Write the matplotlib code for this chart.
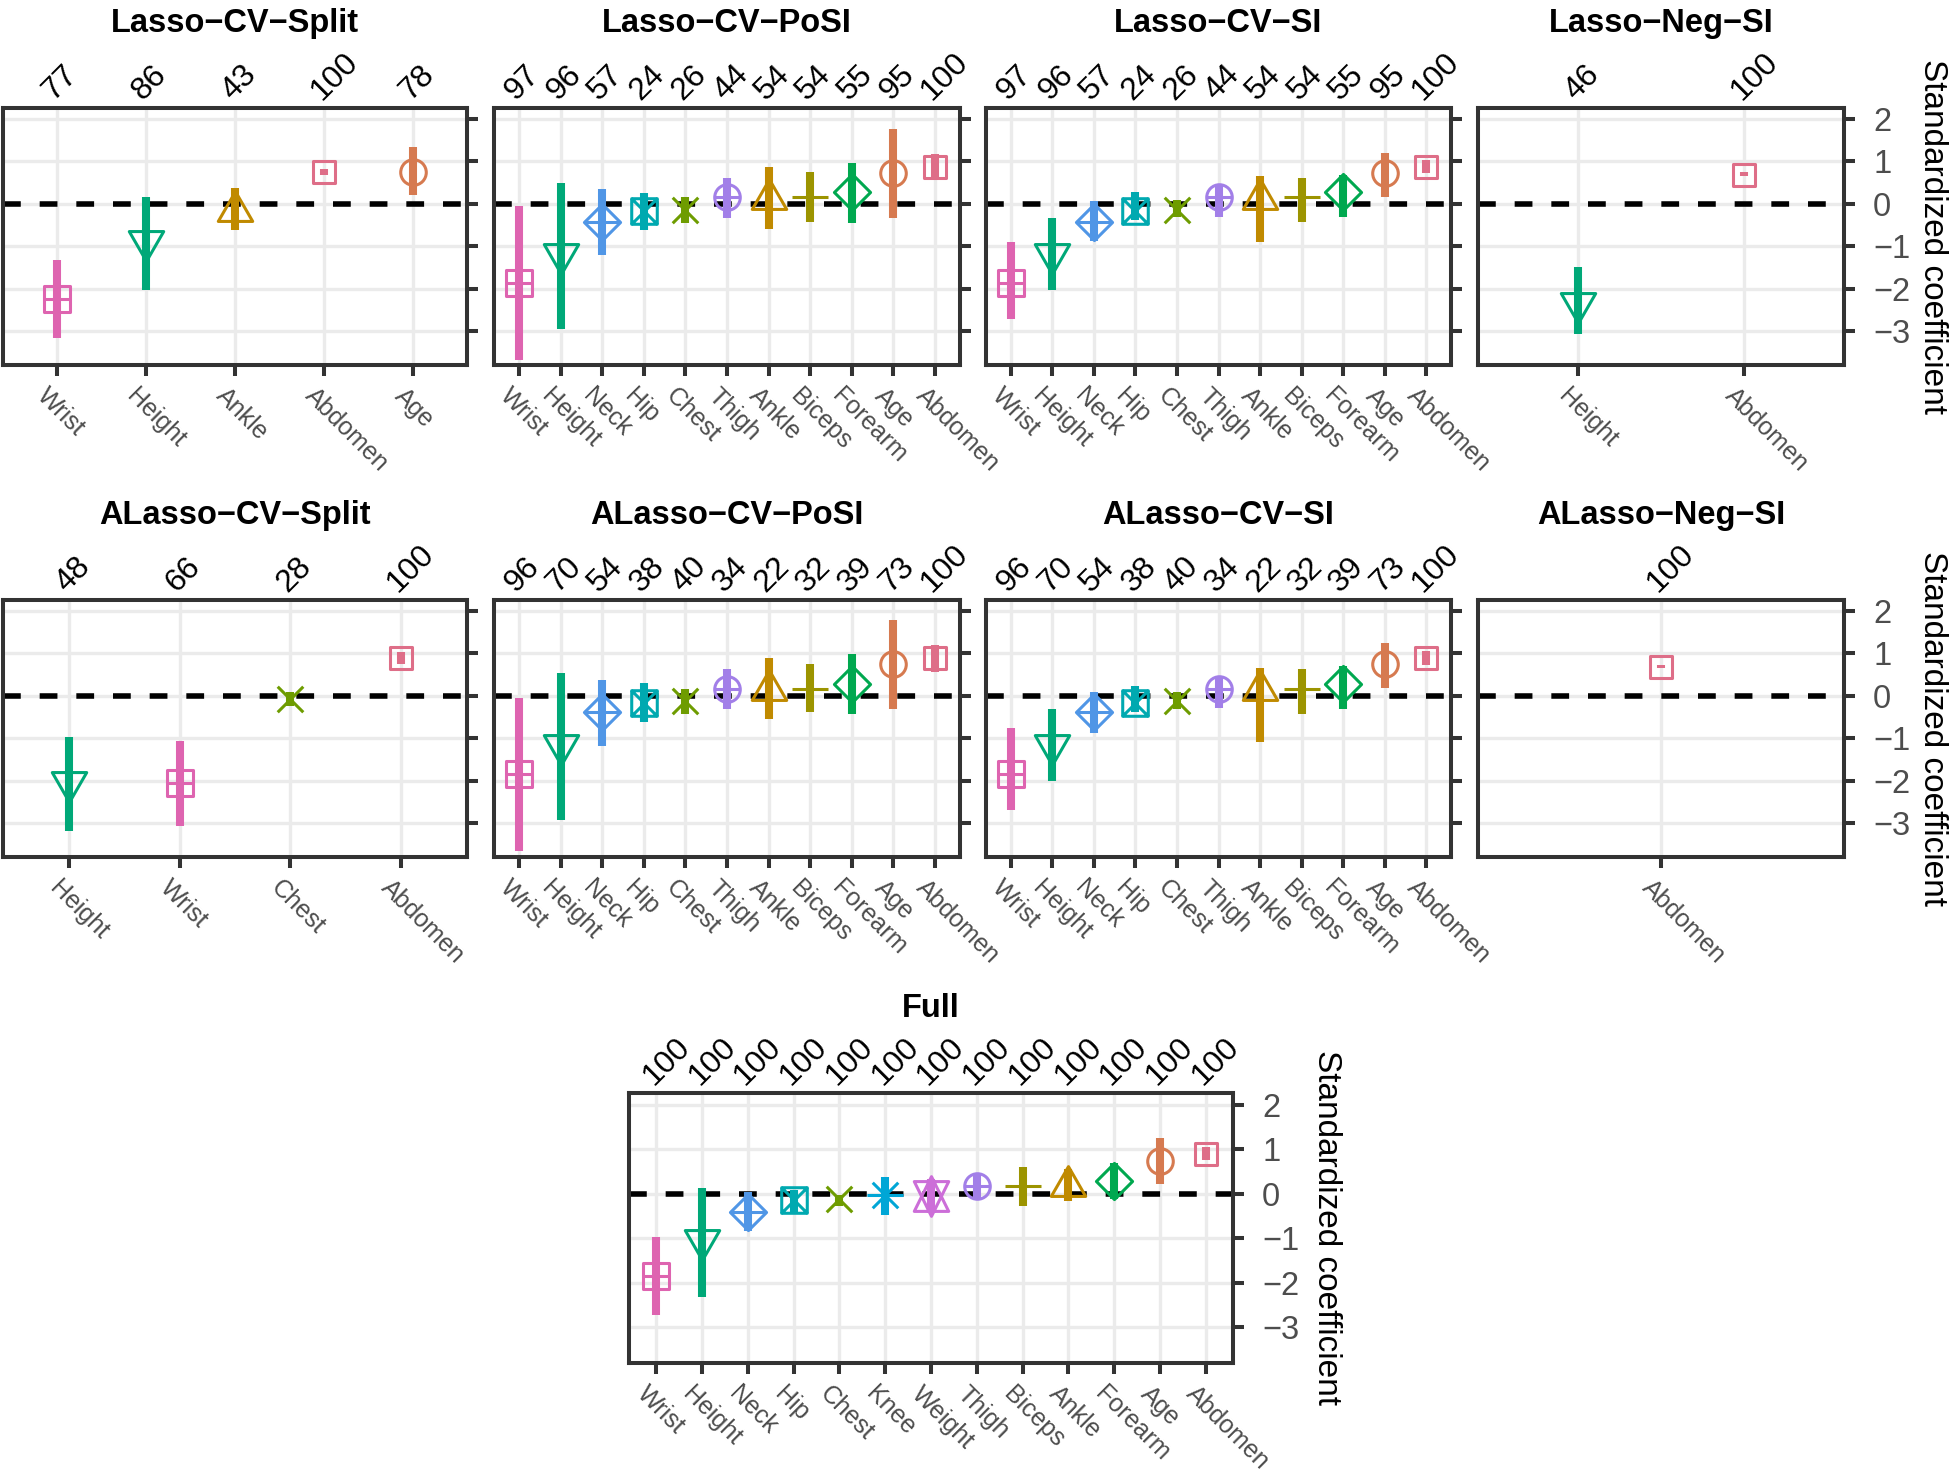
import numpy as np
import matplotlib.pyplot as plt
from matplotlib.path import Path
from matplotlib.transforms import blended_transform_factory, offset_copy

plt.rcParams['font.family'] = ['Liberation Sans', 'DejaVu Sans']

# ---------------- data ----------------
all_vars = ["Abdomen", "Age", "Ankle", "Biceps", "Chest", "Forearm", "Height",
            "Hip", "Knee", "Neck", "Thigh", "Weight", "Wrist"]
var_colors = ["#DE6E88", "#D67A50", "#C08A00", "#9C9400", "#6E9C00", "#00A84F",
              "#00A878", "#00A9B0", "#00A6D6", "#5096E6", "#A27FE8", "#CC6ED8", "#DE64B0"]

vars_split = ["Wrist", "Height", "Ankle", "Abdomen", "Age"]
vars_posi = ["Wrist", "Height", "Neck", "Hip", "Chest", "Thigh", "Ankle", "Biceps",
             "Forearm", "Age", "Abdomen"]
vars_neg = ["Height", "Abdomen"]
vars_asplit = ["Height", "Wrist", "Chest", "Abdomen"]
vars_aneg = ["Abdomen"]
vars_full = ["Wrist", "Height", "Neck", "Hip", "Chest", "Knee", "Weight", "Thigh",
             "Biceps", "Ankle", "Forearm", "Age", "Abdomen"]

# Lasso-CV-Split
freq_1 = [77, 86, 43, 100, 78]
est_1 = [-2.24, -0.87, -0.17, 0.76, 0.76]
lo_1 = [-3.17, -2.02, -0.61, 0.69, 0.21]
hi_1 = [-1.32, 0.15, 0.37, 0.82, 1.35]
# Lasso-CV-PoSI
freq_2 = [97, 96, 57, 24, 26, 44, 54, 54, 55, 95, 100]
est_2 = [-1.87, -1.18, -0.42, -0.17, -0.14, 0.16, 0.11, 0.16, 0.27, 0.72, 0.88]
lo_2 = [-3.69, -2.94, -1.20, -0.61, -0.46, -0.34, -0.59, -0.42, -0.46, -0.34, 0.57]
hi_2 = [-0.06, 0.50, 0.35, 0.25, 0.16, 0.61, 0.88, 0.74, 0.96, 1.77, 1.18]
# Lasso-CV-SI
freq_3 = freq_2
est_3 = est_2
lo_3 = [-2.72, -2.03, -0.87, -0.38, -0.30, -0.30, -0.89, -0.42, -0.30, 0.17, 0.72]
hi_3 = [-0.89, -0.34, 0.06, 0.27, 0.09, 0.45, 0.65, 0.61, 0.69, 1.21, 1.04]
# Lasso-Neg-SI
freq_4 = [46, 100]
est_4 = [-2.34, 0.69]
lo_4 = [-3.07, 0.65]
hi_4 = [-1.50, 0.74]
# ALasso-CV-Split
freq_5 = [48, 66, 28, 100]
est_5 = [-2.03, -2.05, -0.08, 0.89]
lo_5 = [-3.19, -3.07, -0.25, 0.75]
hi_5 = [-0.96, -1.06, 0.08, 1.04]
# ALasso-CV-PoSI
freq_6 = [96, 70, 54, 38, 40, 34, 22, 32, 39, 73, 100]
est_6 = [-1.85, -1.17, -0.39, -0.16, -0.12, 0.16, 0.13, 0.17, 0.28, 0.75, 0.89]
lo_6 = [-3.66, -2.93, -1.18, -0.61, -0.43, -0.31, -0.55, -0.39, -0.43, -0.31, 0.57]
hi_6 = [-0.04, 0.54, 0.38, 0.30, 0.17, 0.63, 0.89, 0.75, 0.98, 1.80, 1.20]
# ALasso-CV-SI
freq_7 = freq_6
est_7 = est_6
lo_7 = [-2.70, -2.01, -0.87, -0.39, -0.31, -0.28, -1.09, -0.42, -0.30, 0.18, 0.73]
hi_7 = [-0.75, -0.31, 0.08, 0.24, 0.08, 0.43, 0.65, 0.63, 0.71, 1.24, 1.05]
# ALasso-Neg-SI
freq_8 = [100]
est_8 = [0.69]
lo_8 = [0.65]
hi_8 = [0.72]
# Full
freq_9 = [100] * 13
est_9 = [-1.85, -1.04, -0.41, -0.15, -0.13, -0.04, -0.05, 0.18, 0.18, 0.18, 0.28, 0.74, 0.90]
lo_9 = [-2.72, -2.31, -0.84, -0.43, -0.27, -0.47, -0.43, -0.10, -0.27, -0.17, -0.13, 0.22, 0.75]
hi_9 = [-0.98, 0.13, 0.03, 0.09, -0.02, 0.37, 0.34, 0.45, 0.61, 0.55, 0.69, 1.25, 1.04]

y_ticks = [-3, -2, -1, 0, 1, 2]


# ---------------- R style shapes (pch 0..12) ----------------
def poly(pts):
    return Path(pts + [pts[0]], [Path.MOVETO] + [Path.LINETO] * (len(pts) - 1) + [Path.CLOSEPOLY])


def seg(a, b):
    return Path([a, b], [Path.MOVETO, Path.LINETO])


def sq(h):
    return poly([(-h, -h), (h, -h), (h, h), (-h, h)])


def plus(h):
    return [seg((-h, 0), (h, 0)), seg((0, -h), (0, h))]


def cross(h):
    return [seg((-h, -h), (h, h)), seg((-h, h), (h, -h))]


circle = Path.circle((0, 0), 1.0)
t0, t1, t2 = 1.5551, 1.3468, 0.7776
tri_up = poly([(0, t0), (t1, -t2), (-t1, -t2)])
tri_dn = poly([(0, -t0), (t1, t2), (-t1, t2)])
dia = poly([(-1.414, 0), (0, 1.414), (1.414, 0), (0, -1.414)])
yc = 0.5 * (t2 + t0)

shape_parts = [
    [sq(0.886)],                               # 0 Abdomen
    [circle],                                  # 1 Age
    [tri_up],                                  # 2 Ankle
    plus(1.414),                               # 3 Biceps
    cross(1.0),                                # 4 Chest
    [dia],                                     # 5 Forearm
    [tri_dn],                                  # 6 Height
    [sq(1.0)] + cross(1.0),                    # 7 Hip
    cross(1.0) + plus(1.414),                  # 8 Knee
    [dia] + plus(1.414),                       # 9 Neck
    [circle] + plus(1.0),                      # 10 Thigh
    [poly([(0, -t0), (t1, yc), (-t1, yc)]),
     poly([(0, t0), (t1, -yc), (-t1, -yc)])],  # 11 Weight
    [sq(1.0)] + plus(1.0),                     # 12 Wrist
]
shapes = [Path.make_compound_path(*p) for p in shape_parts]

R_PT = 9.2  # R "radius" in points

# ---------------- figure ----------------
W, H = 1952, 1476
fig = plt.figure(figsize=(W / 100, H / 100), dpi=100)

YLIM = (-3.80, 2.26)


def add_panel(box, title, vars_, freq, est, lo, hi, show_y):
    x0, y0, x1, y1 = box
    ax = fig.add_axes([x0 / W, 1 - y1 / H, (x1 - x0) / W, (y1 - y0) / H])
    n = len(vars_)
    xs = np.arange(1, n + 1)
    ax.set_xlim(0.4, n + 0.6)
    ax.set_ylim(*YLIM)

    ax.set_axisbelow(True)
    ax.grid(True, color="#EBEBEB", lw=2.4)
    ax.axhline(0, color="black", lw=4.0, dashes=(3.2, 3.4), zorder=2)

    for i, v in enumerate(vars_):
        k = all_vars.index(v)
        c = var_colors[k]
        ax.vlines(xs[i], lo[i], hi[i], color=c, lw=5.8, capstyle="butt", zorder=3)
        m = np.max(np.abs(shapes[k].vertices))
        ax.plot([xs[i]], [est[i]], ls="none", marker=shapes[k], ms=2 * R_PT * m,
                mfc="none", mec=c, mew=2.2, zorder=4)

    for s in ax.spines.values():
        s.set_color("#333333")
        s.set_linewidth(2.9)
        s.set_zorder(5)

    ax.set_xticks(xs)
    ax.set_xticklabels([])
    ax.set_yticks(y_ticks)
    ax.yaxis.tick_right()
    ax.tick_params(axis="x", length=8, width=2.9, color="#333333")
    ax.tick_params(axis="y", left=False, right=True, labelleft=False,
                   labelright=show_y, length=8, width=2.9, color="#333333",
                   labelsize=23.5, labelcolor="#4D4D4D", pad=13)
    ax.set_yticklabels(["\u2212" + str(-t) if t < 0 else str(t) for t in y_ticks])

    bt = blended_transform_factory(ax.transData, ax.transAxes)
    top_tr = offset_copy(bt, fig=fig, x=-3, y=7, units="dots")
    bot_tr = offset_copy(bt, fig=fig, x=-7, y=-19, units="dots")
    for i in range(n):
        ax.text(xs[i], 1.0, str(freq[i]), transform=top_tr, rotation=45,
                rotation_mode="anchor", ha="left", va="baseline", fontsize=23,
                color="black")
        ax.text(xs[i], 0.0, vars_[i], transform=bot_tr, rotation=-45,
                rotation_mode="anchor", ha="left", va="top", fontsize=18,
                color="#4D4D4D")

    fig.text((x0 + x1) / 2 / W, 1 - (y0 - 76) / H, title, ha="center",
             va="baseline", fontsize=23.5, fontweight="bold")
    return ax


cols = [(3, 467), (494, 960), (986, 1451), (1478, 1844)]
row1 = (108, 365)
row2 = (600, 857)

panels_row1 = [
    ("Lasso\u2212CV\u2212Split", vars_split, freq_1, est_1, lo_1, hi_1),
    ("Lasso\u2212CV\u2212PoSI", vars_posi, freq_2, est_2, lo_2, hi_2),
    ("Lasso\u2212CV\u2212SI", vars_posi, freq_3, est_3, lo_3, hi_3),
    ("Lasso\u2212Neg\u2212SI", vars_neg, freq_4, est_4, lo_4, hi_4),
]
panels_row2 = [
    ("ALasso\u2212CV\u2212Split", vars_asplit, freq_5, est_5, lo_5, hi_5),
    ("ALasso\u2212CV\u2212PoSI", vars_posi, freq_6, est_6, lo_6, hi_6),
    ("ALasso\u2212CV\u2212SI", vars_posi, freq_7, est_7, lo_7, hi_7),
    ("ALasso\u2212Neg\u2212SI", vars_aneg, freq_8, est_8, lo_8, hi_8),
]

for row, panels in [(row1, panels_row1), (row2, panels_row2)]:
    for j, p in enumerate(panels):
        box = (cols[j][0], row[0], cols[j][1], row[1])
        add_panel(box, *p, show_y=(j == 3))
    fig.text(1933 / W, 1 - (row[0] + row[1]) / 2 / H, "Standardized coefficient",
             rotation=-90, ha="center", va="center", fontsize=24)

full_box = (629, 1093, 1233, 1363)
add_panel(full_box, "Full", vars_full, freq_9, est_9, lo_9, hi_9, show_y=True)
fig.text(1326 / W, 1 - (full_box[1] + full_box[3]) / 2 / H, "Standardized coefficient",
         rotation=-90, ha="center", va="center", fontsize=24)

fig.savefig("out.png", dpi=100, facecolor="white")
